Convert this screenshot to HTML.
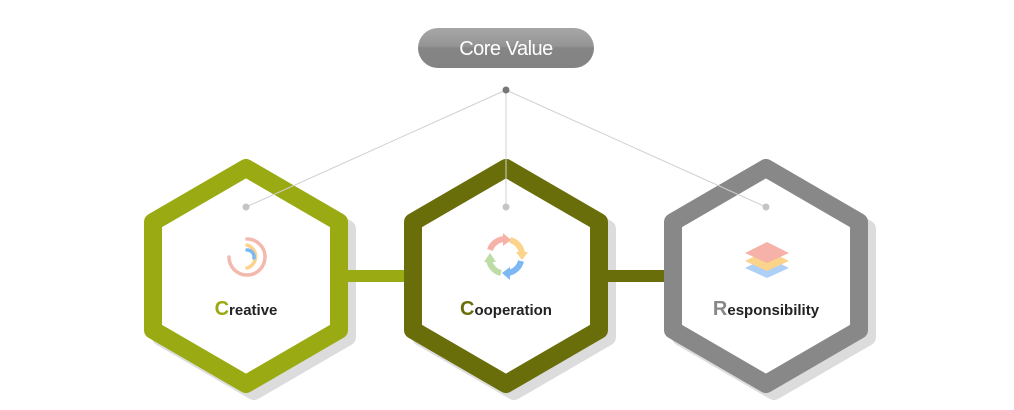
<!DOCTYPE html>
<html><head><meta charset="utf-8"><style>
html,body{margin:0;padding:0;background:#fff;width:1014px;height:410px;overflow:hidden}
svg{display:block}
text{font-family:"Liberation Sans",sans-serif}
</style></head><body>
<svg width="1014" height="410" viewBox="0 0 1014 410" xmlns="http://www.w3.org/2000/svg">
<defs>
<linearGradient id="pill" x1="0" y1="0" x2="0" y2="1">
<stop offset="0" stop-color="#a6a6a6"/><stop offset="0.45" stop-color="#959595"/><stop offset="0.5" stop-color="#858585"/><stop offset="1" stop-color="#838383"/>
</linearGradient>
</defs>
<!-- pill -->
<rect x="418" y="28" width="176" height="40" rx="20" fill="url(#pill)"/>
<text x="506" y="55" font-size="20" fill="#fff" text-anchor="middle" letter-spacing="-0.5">Core Value</text>

<!-- shadows -->
<g fill="none" stroke="#dcdcdc" stroke-width="18" stroke-linejoin="round">
<polygon points="254,175 347,229 347,337 254,391 161,337 161,229"/>
<polygon points="514,175 607,229 607,337 514,391 421,337 421,229"/>
<polygon points="774,175 867,229 867,337 774,391 681,337 681,229"/>
</g>

<!-- connectors -->
<rect x="340" y="270" width="70" height="12" fill="#9aaa12"/>
<rect x="600" y="270" width="70" height="12" fill="#6a6e0a"/>

<!-- hexagons -->
<g stroke-width="18" stroke-linejoin="round" fill="#fff">
<polygon points="246,168 339,222 339,330 246,384 153,330 153,222" stroke="#9aaa12"/>
<polygon points="506,168 599,222 599,330 506,384 413,330 413,222" stroke="#6a6e0a"/>
<polygon points="766,168 859,222 859,330 766,384 673,330 673,222" stroke="#888"/>
</g>

<!-- lines -->
<g stroke="#d0d0d0" stroke-width="1">
<line x1="506" y1="90" x2="246" y2="207"/>
<line x1="506" y1="90" x2="506" y2="207"/>
<line x1="506" y1="90" x2="766" y2="207"/>
</g>
<circle cx="506" cy="90" r="3.5" fill="#777"/>
<g fill="#c4c4c4">
<circle cx="246" cy="207" r="3.5"/><circle cx="506" cy="207" r="3.5"/><circle cx="766" cy="207" r="3.5"/>
</g>

<!-- creative icon -->
<g fill="none" stroke-linecap="round">
<path d="M229,257 A18,18 0 1 0 247,239" stroke="#f4b9ae" stroke-width="3.5"/>
<path d="M247,245 A12,12 0 0 1 247,268" stroke="#fbd38b" stroke-width="3.5"/>
<path d="M247,250 A7,7 0 0 1 254,258" stroke="#7cb8f2" stroke-width="3.5"/>
</g>

<!-- cooperation icon -->
<g fill="none" stroke-width="6">
<path d="M490,250 A16,16 0 0 1 505,239" stroke="#f6b2a8"/>
<path d="M510,240 A16,16 0 0 1 522,253" stroke="#fbd38b"/>
<path d="M521,261 A16,16 0 0 1 508,273" stroke="#7cb8f2"/>
<path d="M501,273 A16,16 0 0 1 489,260" stroke="#bddca6"/>
</g>
<g>
<polygon points="503,233 511,240 503,246" fill="#f6b2a8"/>
<polygon points="516,252 528,252 522,260" fill="#fbd38b"/>
<polygon points="510,267 510,280 502,273" fill="#7cb8f2"/>
<polygon points="484,262 496,262 490,253" fill="#bddca6"/>
</g>

<!-- responsibility icon -->
<polygon points="767,257 789,268 767,278 745,268" fill="#aed0f6"/>
<polygon points="767,250 789,261 767,271 745,261" fill="#fbd38b"/>
<polygon points="767,242 789,253 767,263 745,253" fill="#f6b2a8"/>

<!-- labels -->
<text x="246" y="315" font-size="15" font-weight="bold" fill="#222" text-anchor="middle"><tspan fill="#9aaa12" font-size="20">C</tspan>reative</text>
<text x="506" y="315" font-size="15" font-weight="bold" fill="#222" text-anchor="middle"><tspan fill="#6a6e0a" font-size="20">C</tspan>ooperation</text>
<text x="766" y="315" font-size="15" font-weight="bold" fill="#222" text-anchor="middle"><tspan fill="#888" font-size="20">R</tspan>esponsibility</text>
</svg>
</body></html>
